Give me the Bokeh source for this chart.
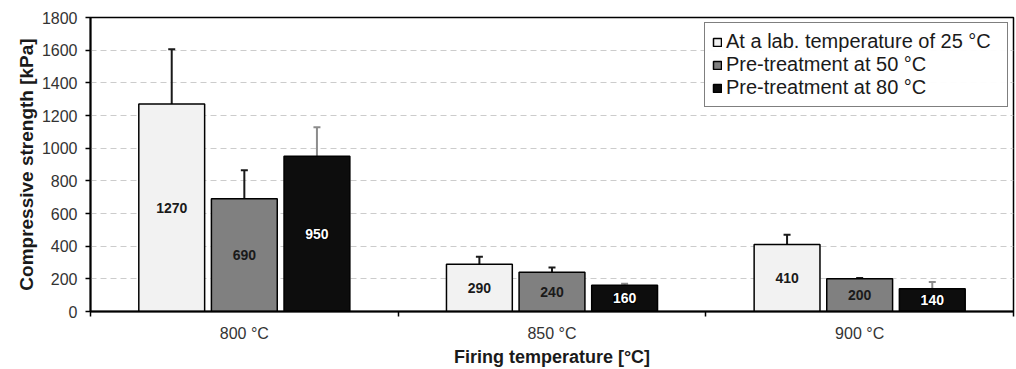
from bokeh.plotting import figure
from bokeh.models import (ColumnDataSource, Range1d, FixedTicker, Whisker, TeeHead,
                          LabelSet, Legend, LegendItem)
from bokeh.core.properties import value
from bokeh.embed import file_html
from bokeh.resources import INLINE
import numpy as np

categories = ["800 °C", "850 °C", "900 °C"]
series = ["At a lab. temperature of 25 °C", "Pre-treatment at 50 °C", "Pre-treatment at 80 °C"]
values_25 = [1270, 290, 410]
values_50 = [690, 240, 200]
values_80 = [950, 160, 140]
err_25 = [335, 45, 60]
err_50 = [175, 30, 5]
err_80 = [178, 10, 40]
y_ticks = [0, 200, 400, 600, 800, 1000, 1200, 1400, 1600, 1800]

FONT = "Liberation Sans"
fills = ["#f2f2f2", "#808080", "#0d0d0d"]
label_colors = ["#1a1a1a", "#1a1a1a", "#ffffff"]
err_colors = ["#1a1a1a", "#1a1a1a", "#8c8c8c"]
offsets = [-0.236, 0.0, 0.236]
bar_w = 0.214

p = figure(width=1016, height=369, output_backend="svg", toolbar_location=None,
           x_range=Range1d(0, 3), y_range=Range1d(0, 1800),
           min_border_left=90, min_border_right=3, min_border_top=17, min_border_bottom=56)
p.outline_line_color = "#000000"
p.outline_line_width = 1.5

centers = np.arange(len(categories)) + 0.5
items = []
for i, (vals, errs) in enumerate([(values_25, err_25), (values_50, err_50), (values_80, err_80)]):
    vals = np.array(vals, dtype=float)
    errs = np.array(errs, dtype=float)
    src = ColumnDataSource(dict(x=centers + offsets[i], top=vals, mid=vals / 2,
                                up=vals + errs, lo=vals - errs,
                                txt=[str(int(v)) for v in vals]))
    r = p.vbar(x="x", top="top", bottom=0, width=bar_w, source=src,
               fill_color=fills[i], line_color="#000000", line_width=1.5)
    items.append(LegendItem(label=series[i], renderers=[r]))
    w = Whisker(base="x", upper="up", lower="lo", source=src,
                line_color=err_colors[i], line_width=2,
                upper_head=TeeHead(size=7, line_color=err_colors[i], line_width=2),
                lower_head=TeeHead(size=7, line_color=err_colors[i], line_width=2))
    p.add_layout(w)
    lab_kw = dict(x="x", y="mid", text="txt", source=src, text_align="center",
                  text_baseline="middle", text_font=value(FONT), text_font_size=value("14px"),
                  text_font_style="bold", text_color=label_colors[i])
    if i == 2:
        lab_kw.update(background_fill_color="#000000", border_line_color=None)
    p.add_layout(LabelSet(**lab_kw))

legend = Legend(items=items, location="top_right", margin=5, padding=7, spacing=0,
                glyph_width=10, glyph_height=10, label_text_font=FONT,
                label_text_font_size="20px", label_text_color="#1a1a1a",
                border_line_color="#000000", border_line_width=1.5,
                label_standoff=4, label_height=21, label_width=274)
p.add_layout(legend)

p.ygrid.ticker = FixedTicker(ticks=y_ticks[1:-1])
p.ygrid.grid_line_color = "#cccccc"
p.ygrid.grid_line_dash = "6 4"
p.xgrid.grid_line_color = None

p.yaxis.ticker = FixedTicker(ticks=y_ticks)
p.yaxis.axis_label = "Compressive strength [kPa]"
p.xaxis.ticker = FixedTicker(ticks=list(centers), minor_ticks=list(range(len(categories) + 1)))
p.xaxis.major_label_overrides = {float(c): cat for c, cat in zip(centers, categories)}
p.xaxis.axis_label = "Firing temperature [°C]"
p.xaxis.minor_tick_out = 5
p.xaxis.minor_tick_in = 0
p.xaxis.minor_tick_line_color = "#000000"
p.xaxis.minor_tick_line_width = 1.5
p.yaxis.minor_tick_line_color = None
p.yaxis.major_tick_out = 5
p.yaxis.major_tick_in = 0
for ax in (p.xaxis, p.yaxis):
    ax.axis_line_color = "#000000"
    ax.axis_line_width = 2
    ax.major_tick_line_width = 1.5
    ax.major_label_text_font = FONT
    ax.major_label_text_font_size = "16px"
    ax.major_label_text_color = "#333333"
    ax.axis_label_text_font = FONT
    ax.axis_label_text_font_style = "bold"
    ax.axis_label_text_color = "#1a1a1a"
p.yaxis.major_tick_line_color = "#000000"
p.xaxis.major_tick_line_color = None
p.xaxis.axis_label_text_font_size = "18px"
p.yaxis.axis_label_text_font_size = "19px"
p.xaxis.major_label_standoff = 7
p.xaxis.axis_label_standoff = 2
p.yaxis.major_label_standoff = 8
p.yaxis.axis_label_standoff = 2

open("out.html", "w").write(file_html(p, INLINE))
